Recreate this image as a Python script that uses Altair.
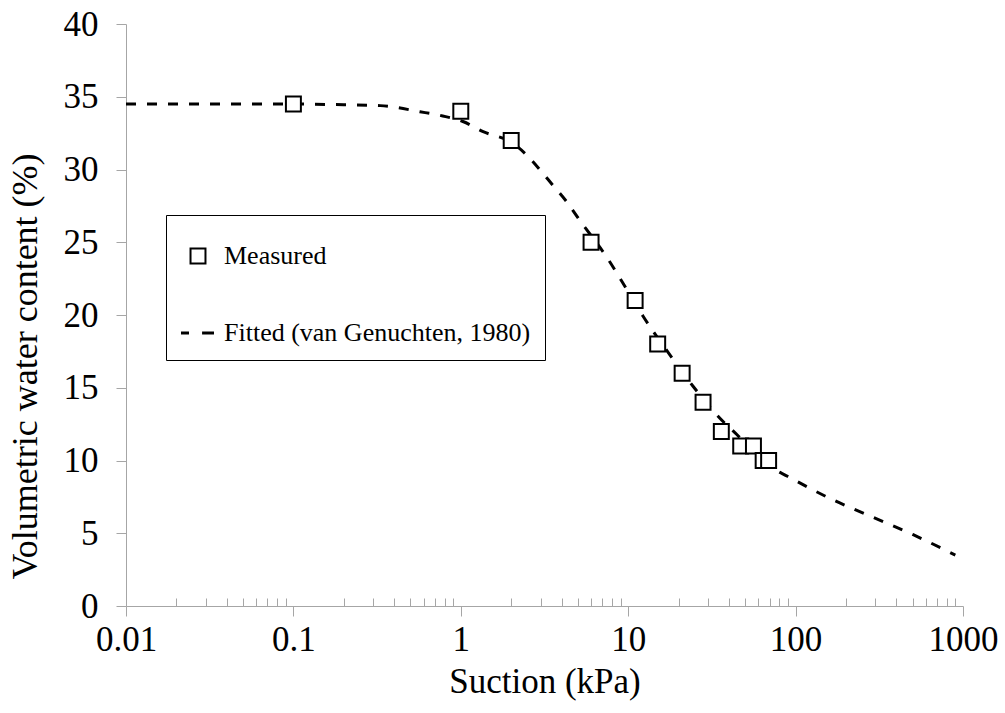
import altair as alt
import pandas as pd

# ---- data ----
measured_suction = [0.1, 1, 2, 6, 11, 15, 21, 28, 36, 47, 56, 64, 69]
measured_theta = [34.5, 34, 32, 25, 21, 18, 16, 14, 12, 11, 11, 10, 10]

fitted_suction = [0.01, 0.03, 0.1, 0.2, 0.33, 0.57, 0.78, 1.03, 1.36, 2.05, 2.47,
                  2.96, 3.56, 4.28, 5.14, 7.42, 10, 12.3, 16.9, 24.4, 35.3, 44.4,
                  57, 70, 90, 160, 290, 504, 900]
fitted_theta = [34.5, 34.5, 34.5, 34.45, 34.39, 33.97, 33.68, 33.3, 32.6, 31.8, 31.0,
                30.0, 28.9, 27.8, 26.5, 24.0, 21.6, 19.9, 17.6, 15.1, 12.9, 11.8,
                10.5, 9.6, 8.9, 7.4, 6.1, 4.9, 3.5]

series_names = ["Measured", "Fitted (van Genuchten, 1980)"]
x_major_ticks = [0.01, 0.1, 1, 10, 100, 1000]
x_minor_ticks = [0.02, 0.03, 0.04, 0.05, 0.06, 0.07, 0.08, 0.09,
                 0.2, 0.3, 0.4, 0.5, 0.6, 0.7, 0.8, 0.9,
                 2, 3, 4, 5, 6, 7, 8, 9,
                 20, 30, 40, 50, 60, 70, 80, 90,
                 200, 300, 400, 500, 600, 700, 800, 900]
y_ticks = [0, 5, 10, 15, 20, 25, 30, 35, 40]

df_m = pd.DataFrame({"suction": measured_suction, "theta": measured_theta,
                     "series": series_names[0]})
df_f = pd.DataFrame({"suction": fitted_suction, "theta": fitted_theta,
                     "series": series_names[1]})

FONT = "Liberation Serif"
GRAY = "#a6a6a6"

xscale = alt.Scale(type="log", domain=[0.01, 1000], nice=False)
yscale = alt.Scale(domain=[0, 40], nice=False, zero=False)

square_path = "M-0.44,-0.44H0.44V0.44H-0.44Z"
dash_path = ("M-1,-0.03H-0.53M-1,0.03H-0.53"
             "M0.24,-0.03H0.94M0.24,0.03H0.94")

x_main_axis = alt.Axis(orient="bottom", values=x_major_ticks, format="~g",
                       tickSize=10, tickColor=GRAY, domainColor=GRAY,
                       labelFont=FONT, labelFontSize=35, labelColor="black",
                       labelPadding=6, labelFlush=False, grid=False,
                       titleFont=FONT, titleFontSize=35, titleFontWeight="normal",
                       titleColor="black", titlePadding=7)
y_main_axis = alt.Axis(orient="left", values=y_ticks, tickSize=10, tickColor=GRAY,
                       domainColor=GRAY, labelFont=FONT, labelFontSize=35,
                       labelColor="black", labelPadding=18, labelFlush=False,
                       grid=False, titleFont=FONT, titleFontSize=36,
                       titleFontWeight="normal", titleColor="black", titlePadding=19,
                       titleY=342)
x_minor_axis = alt.Axis(orient="bottom", values=x_minor_ticks, offset=-8,
                        tickSize=8, tickColor=GRAY, domain=False, labels=False,
                        grid=False)

line = alt.Chart(df_f).mark_line(
    color="black", strokeWidth=3, strokeDash=[10, 11], interpolate="monotone"
).encode(
    x=alt.X("suction:Q", scale=xscale, axis=x_main_axis, title="Suction (kPa)"),
    y=alt.Y("theta:Q", scale=yscale, axis=y_main_axis,
            title="Volumetric water content (%)"),
)

minor = alt.Chart(df_m).mark_point(size=0, strokeOpacity=0).encode(
    x=alt.X("suction:Q", scale=xscale, axis=x_minor_axis, title=""),
    y=alt.Y("theta:Q", scale=yscale, axis=None),
)

legend = alt.Legend(
    orient="none", legendX=40, legendY=191, title=" ", titleFontSize=4,
    titlePadding=5, padding=14, rowPadding=46, symbolSize=1156,
    symbolOpacity=1, symbolStrokeWidth=2,
    labelFont=FONT, labelFontSize=26, labelColor="black", labelOffset=8,
    labelLimit=600, strokeColor="black", fillColor="white", cornerRadius=0,
)

points = alt.Chart(df_m).mark_point(
    filled=False, color="black", fill="white", fillOpacity=1,
    strokeWidth=2, size=1156, opacity=1
).encode(
    x=alt.X("suction:Q", scale=xscale, axis=None),
    y=alt.Y("theta:Q", scale=yscale, axis=None),
    shape=alt.Shape("series:N",
                    scale=alt.Scale(domain=series_names,
                                    range=[square_path, dash_path]),
                    legend=legend),
)

chart = alt.layer(line, minor, points).resolve_axis(
    x="independent", y="independent"
).properties(
    width=837, height=582,
    padding={"left": 126, "top": 24, "right": 42, "bottom": 107},
    autosize=alt.AutoSizeParams(type="none"),
    background="white",
).configure(
    font=FONT
).configure_axis(
    labelFont=FONT, titleFont=FONT
).configure_legend(
    labelFont=FONT, titleFont=FONT
).configure_view(strokeWidth=0)

chart.save("out.html", embed_options={"renderer": "svg", "actions": False})
